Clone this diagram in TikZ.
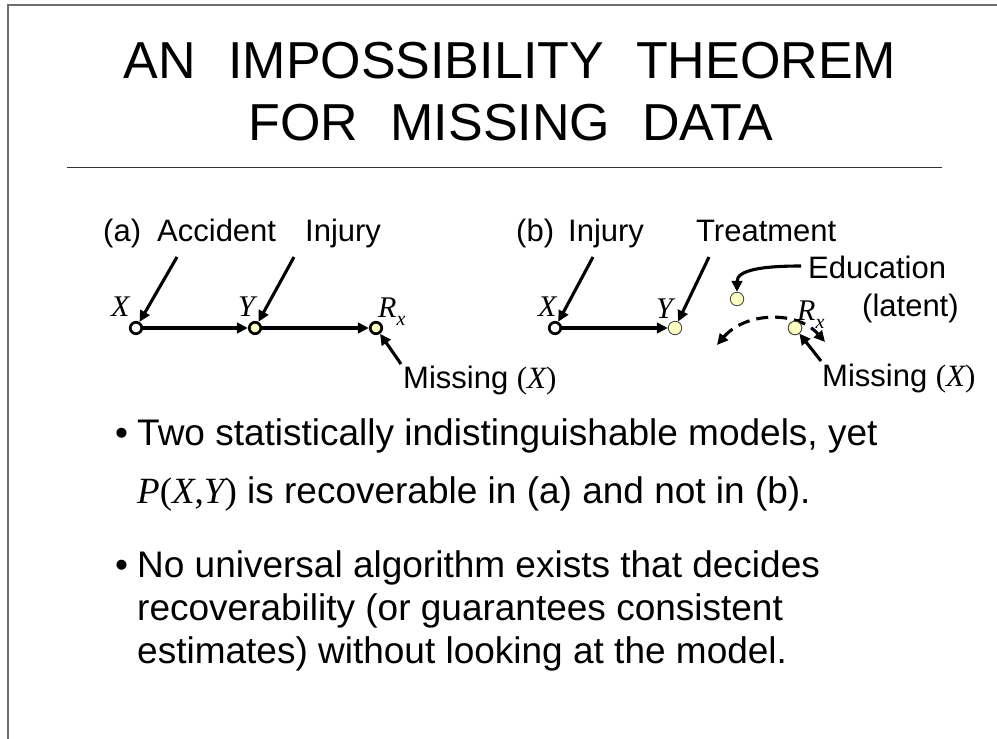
\documentclass[tikz,border=0pt]{standalone}
\usepackage{fontspec}
\setmainfont{Liberation Sans}
\newfontfamily\vfont{Liberation Serif}
\usetikzlibrary{arrows.meta}
\definecolor{nodeyellow}{HTML}{FFFFC2}
\definecolor{framegray}{HTML}{6E6E6E}
\newcommand{\rxlab}{\vfont\itshape R\raisebox{-0.28em}{\fontsize{20}{22}\selectfont x}}
\begin{document}
\begin{tikzpicture}[x=1pt,y=-1pt,
  txt/.style={anchor=base west, inner sep=0pt, font=\fontsize{31}{36}\selectfont},
  big/.style={anchor=base west, inner sep=0pt, font=\fontsize{37}{43}\selectfont},
  ttl/.style={anchor=base, inner sep=0pt, font=\fontsize{52}{60}\selectfont},
  vlab/.style={anchor=base west, inner sep=0pt, font=\fontsize{30}{34}\selectfont\vfont\itshape},
  obs/.style={circle, draw=black, line width=2.7pt, fill=white, minimum size=11.5pt, inner sep=0pt},
  obsy/.style={obs, fill=nodeyellow},
  lat/.style={circle, draw=black!75, line width=0.8pt, fill=nodeyellow, minimum size=13.5pt, inner sep=0pt},
  arr/.style={line width=3.1pt, -{Triangle[length=11pt,width=10.5pt]}},
  darr/.style={line width=3.1pt, dash pattern=on 12pt off 7pt, {Triangle[length=11pt,width=10.5pt]}-{Triangle[length=11pt,width=10.5pt]}}
]
\useasboundingbox (0,0) rectangle (997,739);
% frame
\draw[framegray, line width=1.8pt] (8,739) -- (8,5) -- (997,5);
% title
\node[ttl] (t1) at (510,78) {AN\hspace{0.62em}IMPOSSIBILITY\hspace{0.62em}THEOREM};
\node[ttl] (t2) at (511,140) {FOR\hspace{0.62em}MISSING\hspace{0.62em}DATA};
\draw[line width=1pt, black!80] (67,167) -- (942,167);

% ---- diagram (a)
\node[txt] (la) at (103,241) {(a)};
\node[txt] (acc) at (157,241) {Accident};
\node[txt] (inja) at (305,241) {Injury};
\node[obs] (xa) at (136,328) {};
\node[obsy] (ya) at (255,328) {};
\node[obsy] (ra) at (376,328) {};
\node[vlab] (xla) at (111,316) {X};
\node[vlab] (yla) at (238,316) {Y};
\node[vlab] (rla) at (378,317) {\rxlab};
\node[txt] (missa) at (403,388) {Missing {\vfont(\itshape X\upshape)}};
\coordinate (accS) at (177,257);
\coordinate (injaS) at (294,257);
\coordinate (missaS) at (401,364);
\draw[arr] (accS) -- (xa);
\draw[arr] (injaS) -- (ya);
\draw[arr] (xa) -- (ya);
\draw[arr] (ya) -- (ra);
\draw[arr] (missaS) -- (ra);

% ---- diagram (b)
\node[txt] (lb) at (516,241) {(b)};
\node[txt] (injb) at (568,241) {Injury};
\node[txt] (trt) at (696,241) {Treatment};
\node[txt] (edut) at (808,278) {Education};
\node[txt] (latt) at (862,316) {(latent)};
\node[obs] (xb) at (555,328) {};
\node[lat] (yb) at (675,328) {};
\node[lat] (edu) at (737,299) {};
\node[lat] (rb) at (795,328) {};
\node[vlab] (xlb) at (538,316) {X};
\node[vlab] (ylb) at (656,318) {Y};
\node[vlab] (rlb) at (797,320) {\rxlab};
\node[txt] (missb) at (822,386) {Missing {\vfont(\itshape X\upshape)}};
\coordinate (injbS) at (593,257);
\coordinate (trtS) at (709,257);
\coordinate (eduS) at (801,266);
\coordinate (arcL) at (717,345);
\coordinate (arcR) at (825,342);
\coordinate (missbS) at (821,361);
\draw[arr] (injbS) -- (xb);
\draw[arr] (trtS) -- (yb);
\draw[arr] (xb) -- (yb);
\draw[arr] (eduS) .. controls (762,266) and (737,270) .. (edu.north);
\draw[darr] (arcL) .. controls (745,312) and (797,310) .. (arcR);
\node[lat] at (rb) {};
\draw[arr] (missbS) -- (rb);

% ---- bullets
\node[big] (b1) at (115,445) {\textbullet};
\node[big] (b1l1) at (137,445) {Two statistically indistinguishable models, yet};
\node[big] (b1l2) at (137,503) {{\vfont\itshape P\upshape(\itshape X\upshape,\itshape Y\upshape)} is recoverable in (a) and not in (b).};
\node[big] (b2) at (115,577) {\textbullet};
\node[big] (b2l1) at (137,577) {No universal algorithm exists that decides};
\node[big] (b2l2) at (137,620) {recoverability (or guarantees consistent};
\node[big] (b2l3) at (137,663) {estimates) without looking at the model.};
\end{tikzpicture}
\end{document}
